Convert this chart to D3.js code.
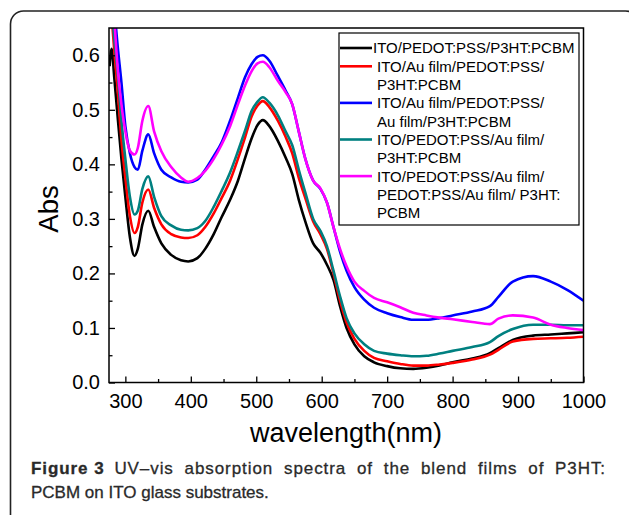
<!DOCTYPE html>
<html>
<head>
<meta charset="utf-8">
<script src="https://cdn.jsdelivr.net/npm/d3@7"></script>
<style>
  html, body { margin: 0; padding: 0; background: #fff; }
  svg { display: block; }
</style>
</head>
<body>
<script>
// ---------------- DATA ----------------
const wavelengths = [276, 279, 283, 288, 294, 300, 307, 314, 319, 326, 335, 344, 355, 370, 385, 396, 410, 422, 435, 447, 460, 472, 483, 493, 502, 510, 520, 533, 545, 555, 565, 575, 587, 598, 608, 618, 628, 638, 650, 665, 680, 700, 720, 740, 760, 780, 800, 830, 857, 870, 892, 923, 950, 975, 1000];

const absBlack = [0.58, 0.612, 0.56, 0.49, 0.41, 0.34, 0.266, 0.232, 0.245, 0.29, 0.315, 0.285, 0.255, 0.234, 0.224, 0.222, 0.228, 0.245, 0.272, 0.303, 0.335, 0.37, 0.412, 0.448, 0.472, 0.481, 0.47, 0.443, 0.412, 0.382, 0.335, 0.295, 0.255, 0.238, 0.216, 0.188, 0.14, 0.1, 0.07, 0.048, 0.037, 0.03, 0.026, 0.025, 0.027, 0.031, 0.037, 0.044, 0.054, 0.063, 0.078, 0.086, 0.088, 0.09, 0.092];

const absRed = [0.70, 0.67, 0.61, 0.54, 0.445, 0.375, 0.305, 0.274, 0.285, 0.33, 0.354, 0.32, 0.29, 0.272, 0.266, 0.265, 0.27, 0.285, 0.31, 0.338, 0.37, 0.41, 0.45, 0.488, 0.508, 0.516, 0.505, 0.48, 0.45, 0.42, 0.375, 0.338, 0.295, 0.272, 0.245, 0.2, 0.15, 0.11, 0.08, 0.058, 0.045, 0.039, 0.034, 0.031, 0.031, 0.033, 0.036, 0.042, 0.051, 0.06, 0.075, 0.08, 0.081, 0.082, 0.084];

const absBlue = [0.80, 0.76, 0.69, 0.62, 0.55, 0.47, 0.42, 0.395, 0.39, 0.425, 0.455, 0.42, 0.39, 0.376, 0.368, 0.367, 0.372, 0.39, 0.415, 0.44, 0.48, 0.522, 0.56, 0.584, 0.597, 0.6, 0.59, 0.562, 0.535, 0.51, 0.46, 0.41, 0.37, 0.355, 0.33, 0.285, 0.24, 0.205, 0.175, 0.152, 0.137, 0.127, 0.12, 0.115, 0.115, 0.118, 0.123, 0.13, 0.14, 0.157, 0.185, 0.195, 0.185, 0.17, 0.15];

const absTeal = [0.72, 0.69, 0.63, 0.57, 0.48, 0.41, 0.34, 0.308, 0.315, 0.355, 0.378, 0.34, 0.305, 0.288, 0.28, 0.279, 0.283, 0.296, 0.322, 0.351, 0.385, 0.424, 0.462, 0.498, 0.515, 0.523, 0.513, 0.49, 0.46, 0.435, 0.39, 0.348, 0.3, 0.278, 0.25, 0.205, 0.158, 0.118, 0.09, 0.07, 0.058, 0.053, 0.05, 0.048, 0.049, 0.053, 0.058, 0.065, 0.074, 0.085, 0.098, 0.106, 0.106, 0.105, 0.105];

const absMagenta = [0.78, 0.74, 0.67, 0.58, 0.51, 0.46, 0.425, 0.418, 0.43, 0.48, 0.507, 0.46, 0.424, 0.395, 0.376, 0.368, 0.375, 0.388, 0.41, 0.436, 0.47, 0.51, 0.545, 0.571, 0.585, 0.588, 0.578, 0.553, 0.532, 0.51, 0.46, 0.41, 0.37, 0.356, 0.33, 0.285, 0.245, 0.213, 0.185, 0.168, 0.155, 0.147, 0.138, 0.128, 0.123, 0.119, 0.116, 0.111, 0.107, 0.117, 0.123, 0.119, 0.106, 0.1, 0.096];

const seriesNames = [
  ["ITO/PEDOT:PSS/P3HT:PCBM"],
  ["ITO/Au film/PEDOT:PSS/", "P3HT:PCBM"],
  ["ITO/Au film/PEDOT:PSS/", "Au film/P3HT:PCBM"],
  ["ITO/PEDOT:PSS/Au film/", "P3HT:PCBM"],
  ["ITO/PEDOT:PSS/Au film/", "PEDOT:PSS/Au film/ P3HT:", "PCBM"]
];
const seriesValues = [absBlack, absRed, absBlue, absTeal, absMagenta];
const seriesColors = ["#000000", "#ff0000", "#0000ff", "#008080", "#ff00ff"];

const xTicks = [300, 400, 500, 600, 700, 800, 900, 1000];
const xMinorTicks = [350, 450, 550, 650, 750, 850, 950];
const yTicks = [0.0, 0.1, 0.2, 0.3, 0.4, 0.5, 0.6];
const yMinorTicks = [0.05, 0.15, 0.25, 0.35, 0.45, 0.55];

const xLabel = "wavelength(nm)";
const yLabel = "Abs";
const captionBold = "Figure 3";
const captionLine1 = "UV\u2013vis absorption spectra of the blend films of P3HT:";
const captionLine2 = "PCBM on ITO glass substrates.";

// ---------------- LAYOUT ----------------
const W = 629, H = 515;
const plot = { left: 109, right: 583.5, top: 28, bottom: 382.5 };

const svg = d3.select("body").append("svg").attr("width", W).attr("height", H);

// outer rounded frame
svg.append("rect")
  .attr("x", 10.5).attr("y", 11).attr("width", 628).attr("height", 600)
  .attr("rx", 13).attr("ry", 13)
  .attr("fill", "none").attr("stroke", "#222").attr("stroke-width", 1.6);

const x = d3.scaleLinear().domain([275, 1000]).range([plot.left, plot.right]);
const y = d3.scaleLinear().domain([0, 0.65]).range([plot.bottom, plot.top]);

svg.append("defs").append("clipPath").attr("id", "clip")
  .append("rect")
  .attr("x", plot.left).attr("y", plot.top)
  .attr("width", plot.right - plot.left).attr("height", plot.bottom - plot.top);

// curves
const line = d3.line()
  .x(d => x(d[0]))
  .y(d => y(d[1]))
  .curve(d3.curveMonotoneX);

const gLines = svg.append("g").attr("clip-path", "url(#clip)");
seriesValues.forEach((vals, i) => {
  gLines.append("path")
    .datum(wavelengths.map((w, j) => [w, vals[j]]))
    .attr("d", line)
    .attr("fill", "none")
    .attr("stroke", seriesColors[i])
    .attr("stroke-width", 2.6)
    .attr("stroke-linejoin", "round");
});

// frame (top, right)
svg.append("rect")
  .attr("x", plot.left).attr("y", plot.top)
  .attr("width", plot.right - plot.left).attr("height", plot.bottom - plot.top)
  .attr("fill", "none").attr("stroke", "#000").attr("stroke-width", 1.5);

// x axis
const xAxis = d3.axisBottom(x).tickValues(xTicks).tickSize(-6).tickPadding(11)
  .tickFormat(d3.format("d"));
const gx = svg.append("g").attr("transform", `translate(0,${plot.bottom})`).call(xAxis);
gx.select(".domain").remove();
gx.selectAll(".tick line").attr("stroke", "#000").attr("stroke-width", 1.3);
gx.selectAll(".tick text")
  .attr("font-family", "Liberation Sans, Arial, sans-serif")
  .attr("font-size", 20).attr("fill", "#000");

const xAxisMinor = d3.axisBottom(x).tickValues(xMinorTicks).tickSize(-3.5).tickFormat("");
const gxm = svg.append("g").attr("transform", `translate(0,${plot.bottom})`).call(xAxisMinor);
gxm.select(".domain").remove();
gxm.selectAll(".tick line").attr("stroke", "#000").attr("stroke-width", 1.3);

// y axis
const yAxis = d3.axisLeft(y).tickValues(yTicks).tickSize(-6).tickPadding(9)
  .tickFormat(d3.format(".1f"));
const gy = svg.append("g").attr("transform", `translate(${plot.left},0)`).call(yAxis);
gy.select(".domain").remove();
gy.selectAll(".tick line").attr("stroke", "#000").attr("stroke-width", 1.3);
gy.selectAll(".tick text")
  .attr("font-family", "Liberation Sans, Arial, sans-serif")
  .attr("font-size", 20).attr("fill", "#000");

const yAxisMinor = d3.axisLeft(y).tickValues(yMinorTicks).tickSize(-3.5).tickFormat("");
const gym = svg.append("g").attr("transform", `translate(${plot.left},0)`).call(yAxisMinor);
gym.select(".domain").remove();
gym.selectAll(".tick line").attr("stroke", "#000").attr("stroke-width", 1.3);

// axis titles
svg.append("text")
  .attr("x", 346).attr("y", 442)
  .attr("text-anchor", "middle")
  .attr("font-family", "Liberation Sans, Arial, sans-serif")
  .attr("font-size", 27).attr("fill", "#000")
  .text(xLabel);

svg.append("text")
  .attr("transform", "translate(58,209) rotate(-90)")
  .attr("text-anchor", "middle")
  .attr("font-family", "Liberation Sans, Arial, sans-serif")
  .attr("font-size", 27.5).attr("fill", "#000")
  .text(yLabel);

// legend
const leg = { x: 339, y: 33, w: 240, h: 192 };
svg.append("rect")
  .attr("x", leg.x).attr("y", leg.y).attr("width", leg.w).attr("height", leg.h)
  .attr("fill", "#fff").attr("stroke", "#000").attr("stroke-width", 1.2);

const rowH = 18.3;
let row = 0;
seriesNames.forEach((lines, i) => {
  const cy = 48 + row * rowH;
  svg.append("line")
    .attr("x1", leg.x + 1).attr("x2", 372)
    .attr("y1", cy).attr("y2", cy)
    .attr("stroke", seriesColors[i]).attr("stroke-width", 2.6);
  lines.forEach((t, k) => {
    svg.append("text")
      .attr("x", i === 0 ? 373 : 377)
      .attr("y", cy + k * rowH + 5.4)
      .attr("font-family", "Liberation Sans, Arial, sans-serif")
      .attr("font-size", 15).attr("fill", "#000")
      .text(t);
  });
  row += lines.length;
});

// caption: first line justified to the box width, second line natural
const capFont = "Liberation Sans, Arial, sans-serif";
const capLeft = 31, capRight = 606, capFs = 17;
function capText(str, x0, y0, bold) {
  return svg.append("text")
    .attr("x", x0).attr("y", y0)
    .attr("font-family", capFont)
    .attr("font-size", capFs)
    .attr("font-weight", bold ? "bold" : "normal")
    .attr("fill", "#2a2a2a")
    .attr("stroke", "#2a2a2a")
    .attr("stroke-width", 0.3)
    .text(str);
}
capText(captionLine2, capLeft, 498, false);
const tb = capText(captionBold, capLeft, 474, true);
const tr = capText(captionLine1, 0, 474, false);
const wb0 = tb.node().getComputedTextLength();
const wr0 = tr.node().getComputedTextLength();
const spaceW = capFs * 0.278;
const nSpaces = (captionLine1.match(/ /g) || []).length;
const nChars = captionBold.length + captionLine1.length;
const extra = (capRight - capLeft) - (wb0 + spaceW + wr0);
// share the stretch between letter spacing and word spacing
const ls = Math.max(0, extra * 0.55 / nChars);
tb.attr("letter-spacing", ls);
tr.attr("letter-spacing", ls);
const wb = tb.node().getComputedTextLength();
const wr = tr.node().getComputedTextLength();
const rest = (capRight - capLeft) - (wb + spaceW + wr);
const per = Math.max(0, rest / (nSpaces + 1));
tr.attr("x", capLeft + wb + spaceW + per).attr("word-spacing", per);
</script>
</body>
</html>
